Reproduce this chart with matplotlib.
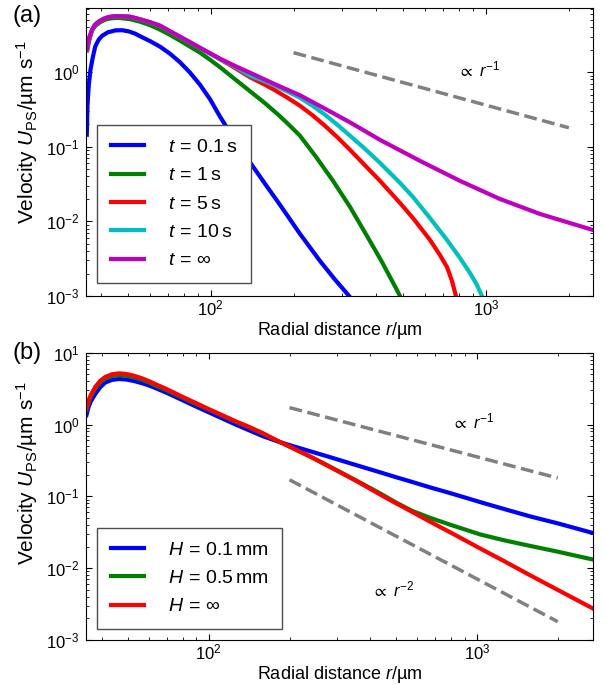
import numpy as np
import matplotlib
matplotlib.use("Agg")
import matplotlib.pyplot as plt

plt.rcParams['font.family'] = ['Liberation Sans', 'DejaVu Sans']
plt.rcParams['mathtext.fontset'] = 'custom'
plt.rcParams['mathtext.rm'] = 'Liberation Sans'
plt.rcParams['mathtext.it'] = 'Liberation Sans:italic'
plt.rcParams['mathtext.bf'] = 'Liberation Sans:bold'
plt.rcParams['mathtext.fallback'] = 'stixsans'

# ---- panel (a): velocity profiles at different times ----
r_inf = [35.5, 36.2, 37.1, 38.0, 39.3, 40.9, 42.7, 44.6, 46.9, 51.0, 55.4, 60.3, 65.5, 71.2,
         77.4, 84.2, 91.5, 99.5, 108.2, 122.6, 139.0, 171.3, 211.1, 260.2, 320.6, 412.0,
         575.5, 803.9, 1123, 1569, 2440]
u_inf = [2.00, 2.90, 3.72, 4.34, 4.81, 5.22, 5.51, 5.63, 5.64, 5.56, 5.14, 4.69, 4.21, 3.55,
         3.00, 2.53, 2.13, 1.80, 1.52, 1.215, 0.985, 0.690, 0.491, 0.324, 0.213, 0.124,
         0.0649, 0.0350, 0.0200, 0.0126, 0.00769]

r_10 = [35.5, 36.2, 37.1, 38.0, 39.3, 40.9, 42.7, 44.6, 46.9, 51.0, 55.4, 60.3, 65.5, 71.2,
        77.4, 84.2, 91.5, 99.5, 108.2, 122.6, 139.0, 154.3, 171.3, 190.1, 211.1, 234.4,
        260.2, 288.8, 320.6, 363.4, 412.0, 486.9, 542.8, 625.8, 721.4, 803.9, 874.1, 926.8,
        966.4]
u_10 = [1.98, 2.88, 3.70, 4.32, 4.79, 5.20, 5.49, 5.61, 5.62, 5.54, 5.12, 4.67, 4.19, 3.53,
        2.98, 2.51, 2.11, 1.78, 1.49, 1.185, 0.898, 0.776, 0.659, 0.551, 0.455, 0.355,
        0.269, 0.197, 0.141, 0.094, 0.061, 0.0329, 0.0213, 0.0111, 0.00565, 0.00324,
        0.00204, 0.00141, 0.001]

r_5 = [35.5, 36.2, 37.1, 38.0, 39.3, 40.9, 42.7, 44.6, 46.9, 51.0, 55.4, 60.3, 65.5, 71.2,
       77.4, 84.2, 91.5, 99.5, 108.2, 122.6, 139.0, 154.3, 171.3, 190.1, 211.1, 234.4,
       260.2, 288.8, 320.6, 363.4, 412.0, 486.9, 542.8, 625.8, 680.0, 721.4, 752.0, 777.7]
u_5 = [1.96, 2.86, 3.68, 4.30, 4.77, 5.18, 5.47, 5.59, 5.60, 5.52, 5.10, 4.65, 4.17, 3.51,
       2.96, 2.49, 2.11, 1.78, 1.49, 1.14, 0.857, 0.705, 0.573, 0.455, 0.355, 0.265,
       0.191, 0.134, 0.0912, 0.0565, 0.035, 0.0177, 0.0111, 0.00565, 0.00355, 0.00245,
       0.0016, 0.001]

r_1 = [35.7, 36.2, 37.1, 38.0, 39.7, 41.4, 43.1, 45.0, 46.9, 51.0, 55.4, 60.3, 65.5, 71.2,
       77.4, 84.2, 91.5, 99.5, 108.2, 122.6, 139.0, 157.6, 178.6, 194.2, 211.1, 241.3,
       278.2, 320.6, 369.6, 419.0, 474.9, 486.9]
u_1 = [2.07, 2.65, 3.66, 4.14, 4.69, 5.07, 5.26, 5.34, 5.34, 5.14, 4.76, 4.27, 3.72, 3.16,
       2.65, 2.20, 1.83, 1.47, 1.167, 0.805, 0.556, 0.384, 0.2566, 0.191, 0.1406, 0.0734,
       0.0350, 0.01566, 0.00638, 0.00286, 0.00120, 0.001]

r_01 = [35.5, 35.7, 36.1, 36.6, 37.3, 38.1, 39.2, 40.4, 42.4, 45.1, 47.7, 50.4, 53.2, 55.4,
        60.3, 65.5, 71.2, 77.4, 84.2, 91.5, 99.5, 108.2, 122.6, 139.0, 157.6, 178.6, 194.2,
        211.1, 249.5, 282.8, 312.7, 318.0]
u_01 = [0.145, 0.366, 0.679, 1.08, 1.57, 2.22, 2.73, 3.09, 3.44, 3.64, 3.66, 3.53, 3.29, 3.04,
        2.61, 2.20, 1.77, 1.36, 0.985, 0.679, 0.434, 0.253, 0.122, 0.0619, 0.0319, 0.01665,
        0.01064, 0.00680, 0.00295, 0.00166, 0.00108, 0.001]

labels_a = [r'$t\,=\,0.1\,\mathrm{s}$', r'$t\,=\,1\,\mathrm{s}$', r'$t\,=\,5\,\mathrm{s}$',
            r'$t\,=\,10\,\mathrm{s}$', r'$t\,=\,\infty$']

# ---- panel (b): velocity profiles for different film heights ----
r_b = [35.0, 35.6, 36.3, 37.8, 39.4, 41.1, 43.6, 46.2, 49.0, 52.5, 56.2, 59.7, 63.1, 70.8,
       79.4, 89.1, 100, 112.2, 125.9, 141.3, 158.5, 182.4, 199.5, 242.7, 283.5, 354.8,
       435.5, 501.2, 575.4, 669.9, 794.3, 1028, 1259, 1581, 1995, 2704]
u_h01 = [1.355, 1.738, 2.089, 2.692, 3.311, 3.846, 4.188, 4.305, 4.246, 4.046, 3.776, 3.508,
         3.236, 2.692, 2.203, 1.799, 1.479, 1.216, 1.00, 0.832, 0.692, 0.575, 0.519, 0.417,
         0.351, 0.272, 0.216, 0.184, 0.158, 0.133, 0.111, 0.0832, 0.0668, 0.0525, 0.0422,
         0.0309]
u_h05 = [1.60, 2.00, 2.43, 3.20, 3.87, 4.37, 4.74, 4.89, 4.81, 4.55, 4.22, 3.86, 3.51, 2.92,
         2.38, 1.95, 1.61, 1.33, 1.09, 0.916, 0.750, 0.581, 0.495, 0.348, 0.258, 0.166,
         0.110, 0.0813, 0.0624, 0.0501, 0.0403, 0.0295, 0.0245, 0.0204, 0.0170, 0.0132]
u_hinf = [1.68, 2.14, 2.57, 3.36, 4.07, 4.59, 5.01, 5.16, 5.07, 4.79, 4.42, 4.03, 3.67, 3.03,
          2.45, 2.01, 1.64, 1.35, 1.11, 0.927, 0.762, 0.582, 0.496, 0.347, 0.256, 0.164,
          0.106, 0.0794, 0.0603, 0.0442, 0.0316, 0.0188, 0.0126, 0.00794, 0.00501, 0.00275]

labels_b = [r'$H\,=\,0.1\,\mathrm{mm}$', r'$H\,=\,0.5\,\mathrm{mm}$', r'$H\,=\,\infty$']

# guide lines
guide_r = [200, 2000]
guide_a = [1.83, 0.18]
guide_b1 = [1.72, 0.18]
guide_b2 = [0.17, 0.0018]

fig = plt.figure(figsize=(6.06, 6.85), dpi=100)
ax_a = fig.add_axes([0.1427, 0.5679, 0.8353, 0.4200])
ax_b = fig.add_axes([0.1427, 0.0657, 0.8353, 0.4194])

lw = 3
ax_a.plot(r_01, u_01, color='b', lw=lw, label=labels_a[0])
ax_a.plot(r_1, u_1, color='g', lw=lw, label=labels_a[1])
ax_a.plot(r_5, u_5, color='r', lw=lw, label=labels_a[2])
ax_a.plot(r_10, u_10, color='c', lw=lw, label=labels_a[3])
ax_a.plot(r_inf, u_inf, color='m', lw=lw, label=labels_a[4])
ax_a.plot(guide_r, guide_a, '--', color='0.5', lw=2.5)
ax_a.text(790, 1.1, r'$\propto\ r^{-1}$', fontsize=12, va='center')

ax_b.plot(r_b, u_h01, color='b', lw=lw, label=labels_b[0])
ax_b.plot(r_b, u_h05, color='g', lw=lw, label=labels_b[1])
ax_b.plot(r_b, u_hinf, color='r', lw=lw, label=labels_b[2])
ax_b.plot(guide_r, guide_b1, '--', color='0.5', lw=2.5)
ax_b.plot(guide_r, guide_b2, '--', color='0.5', lw=2.5)
ax_b.text(809, 1.1, r'$\propto\ r^{-1}$', fontsize=12, va='center')
ax_b.text(406, 0.005, r'$\propto\ r^{-2}$', fontsize=12, va='center')

ax_a.set_xlim(35.4, 2440)
ax_a.set_ylim(1e-3, 7.2)
ax_b.set_xlim(35, 2700)
ax_b.set_ylim(1e-3, 10)

for ax, loc_y, lab_y in [(ax_a, 0.0452, 0.57), (ax_b, 0.0383, 0.58)]:
    ax.set_xscale('log')
    ax.set_yscale('log')
    ax.tick_params(which='both', direction='in', top=True, right=True, labelsize=12)
    ax.tick_params(which='major', length=4, width=0.8)
    ax.tick_params(which='minor', length=2, width=0.6)
    ax.tick_params(axis='y', which='major', pad=5)
    ax.tick_params(axis='x', which='major', pad=2)
    ax.set_xlabel(r'Radial distance $r$/µm', fontsize=13, labelpad=1)
    ax.set_ylabel(r'Velocity $U_{\mathrm{PS}}$/µm s$^{-1}$', fontsize=15)
    ax.yaxis.set_label_coords(-0.092, lab_y)
    leg = ax.legend(loc='lower left', bbox_to_anchor=(0.0207, loc_y), borderaxespad=0,
                    fontsize=14, fancybox=False, framealpha=1, edgecolor='0.3',
                    handlelength=1.7, handletextpad=1.25, labelspacing=0.55, borderpad=0.7)
    leg.get_frame().set_linewidth(1.0)

fig.text(0.02, 0.993, '(a)', fontsize=17, ha='left', va='top')
fig.text(0.02, 0.500, '(b)', fontsize=17, ha='left', va='top')

fig.savefig('out.png', dpi=100)
